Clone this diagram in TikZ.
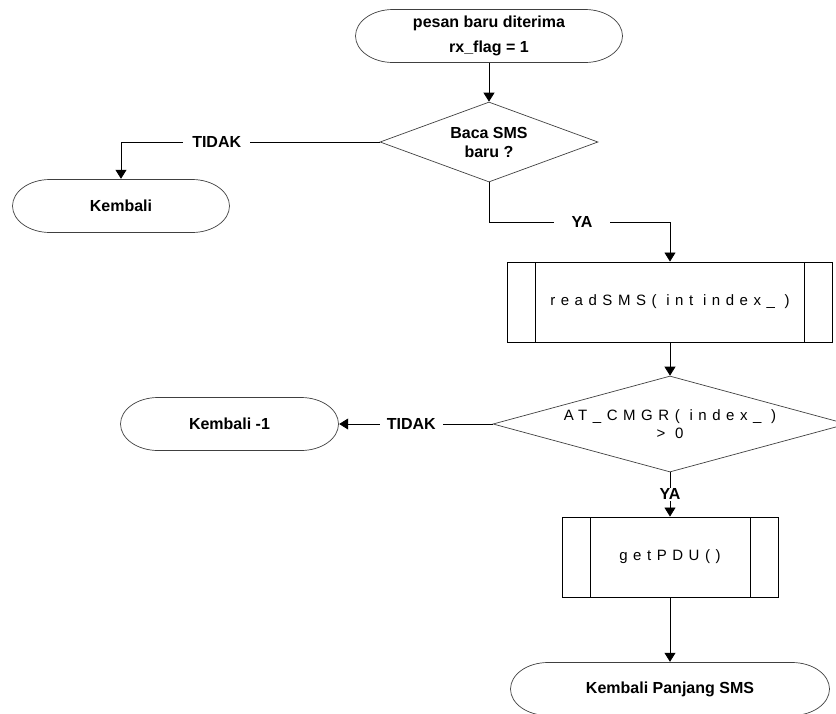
\documentclass[tikz,border=0pt]{standalone}
\usepackage{fontspec}
\setmainfont{Liberation Sans}
\newfontfamily\codefont[LetterSpace=37]{Liberation Sans}
\usetikzlibrary{
   arrows.meta,
   shapes.geometric
}

\begin{document}
\begin{tikzpicture}[
    x=1pt, y=-1pt,
    every node/.style={font=\bfseries\fontsize{16}{19}\selectfont},
    terminal/.style={rectangle, fill=white, inner sep=0pt, minimum height=54pt,
        path picture={
          \draw[line width=0.7pt, black!75]
            ([xshift=38pt,yshift=-0.5pt]path picture bounding box.north west)
            -- ([xshift=-38pt,yshift=-0.5pt]path picture bounding box.north east)
            arc[start angle=90, end angle=-90, x radius=37.5pt, y radius=26.5pt]
            -- ([xshift=38pt,yshift=0.5pt]path picture bounding box.south west)
            arc[start angle=270, end angle=90, x radius=37.5pt, y radius=26.5pt]
            -- cycle;}},
    decision/.style={diamond, draw=black!75, line width=0.7pt, inner sep=0pt, align=center},
    predef/.style={rectangle, draw, line width=0.9pt, inner sep=0pt, minimum height=80pt,
        path picture={
          \draw[line width=0.9pt]
            ([xshift=28pt]path picture bounding box.north west) -- ([xshift=28pt]path picture bounding box.south west)
            ([xshift=-28pt]path picture bounding box.north east) -- ([xshift=-28pt]path picture bounding box.south east);}},
    code/.style={font=\codefont\fontsize{15}{18}\selectfont},
    edgelbl/.style={fill=white, inner xsep=9pt, inner ysep=2pt},
    arr/.style={-{Triangle[width=11pt,length=9pt]}, line width=0.8pt}
]
\useasboundingbox (0,0) rectangle (836,713);

% start
\node[terminal, minimum width=268pt, align=center, font=\bfseries\fontsize{16}{25}\selectfont] (start) at (489,36) {pesan baru diterima\\rx\_flag = 1};

% first question
\node[decision, aspect=2.7, minimum width=218pt, minimum height=80pt] (baca) at (489,142) {Baca SMS\\baru ?};
\node[terminal, minimum width=218pt] (kembali) at (121,206) {Kembali};

% read the message
\node[predef, minimum width=325pt, code] (readsms) at (670,302) {readSMS( int index\_ )};

% second question
\node[decision, aspect=3.7, minimum width=354pt, minimum height=96pt, code] (cmgr) at (670,424) {AT\_CMGR( index\_ )\\> 0};
\node[terminal, minimum width=219pt] (kembalineg) at (229.5,424) {Kembali -1};

% pdu and end
\node[predef, minimum width=216pt, code] (getpdu) at (670,557) {getPDU()};
\node[terminal, minimum width=320pt] (panjang) at (670,689) {Kembali Panjang SMS};

% connectors
\draw[arr] (start) -- (baca);
\draw[arr] (baca.west) -| node[edgelbl, pos=0.315] {TIDAK} (kembali.north);
\draw[arr] (baca.south) -- ++(0,40) -| node[edgelbl, pos=0.257, inner xsep=18pt] {YA} (readsms.north);
\draw[arr] (readsms) -- (cmgr);
\draw[arr] (cmgr.west) -- node[edgelbl, pos=0.53, inner xsep=7pt] {TIDAK} (kembalineg.east);
\draw[arr] (cmgr.south) -- node[edgelbl, pos=0.5, inner xsep=2pt, inner ysep=1pt] {YA} (getpdu.north);
\draw[arr] (getpdu) -- (panjang);

\end{tikzpicture}
\end{document}
